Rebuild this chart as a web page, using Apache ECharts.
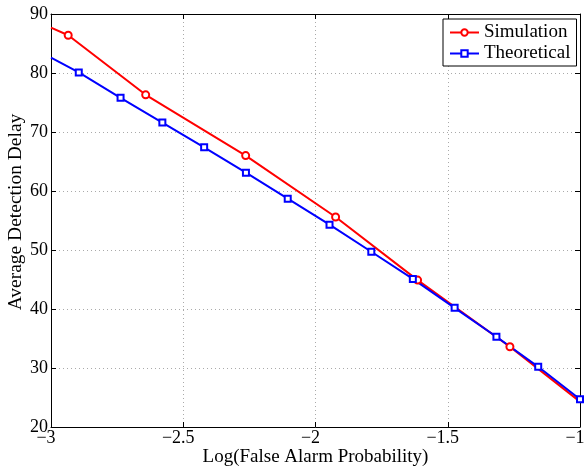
<!DOCTYPE html>
<html>
<head>
<meta charset="utf-8">
<script src="https://cdn.jsdelivr.net/npm/echarts@6/dist/echarts.min.js"></script>
<style>html,body{margin:0;padding:0;background:#fff}#c{width:585px;height:471px}</style>
</head>
<body>
<div id="c"></div>
<script>
var xTicks = [-3, -2.5, -2, -1.5, -1];
var yTicks = [20, 30, 40, 50, 60, 70, 80, 90];
var simX = [-3, -2.935, -2.642, -2.264, -1.924, -1.614, -1.265, -1];
var simY = [87.7, 86.4, 76.3, 66.0, 55.6, 44.9, 33.6, 24.3];
var simMarker = [0, 1, 1, 1, 1, 1, 1, 0];
var theoX = [-3, -2.895, -2.737, -2.579, -2.421, -2.263, -2.105, -1.947, -1.789, -1.632, -1.474, -1.316, -1.158, -1];
var theoY = [82.6, 80.1, 75.8, 71.6, 67.4, 63.1, 58.7, 54.3, 49.7, 45.1, 40.2, 35.3, 30.2, 24.7];
var theoMarker = [0, 1, 1, 1, 1, 1, 1, 1, 1, 1, 1, 1, 1, 1];

var FONT = "'Liberation Serif', 'DejaVu Serif', serif";
function build(xs, ys, marks) {
  return xs.map(function (x, i) {
    var d = { value: [x, ys[i]] };
    if (!marks[i]) d.symbol = 'none';
    return d;
  });
}
function fmt(v) { return String(v).replace('-', '\u2212'); }

var chart = echarts.init(document.getElementById('c'), null, { renderer: 'canvas' });
var gridLine = { show: true, lineStyle: { color: '#aaa', type: [1, 3], width: 1 } };
var tick = { show: true, inside: true, length: 5, lineStyle: { color: '#000' } };
var axLine = { show: true, onZero: false, lineStyle: { color: '#000', width: 1 } };
chart.setOption({
  animation: false,
  backgroundColor: '#fff',
  grid: { left: 51, right: 5, top: 14, bottom: 44, containLabel: false, outerBoundsMode: 'none' },
  legend: {
    orient: 'vertical',
    left: 443, top: 19,
    padding: [4, 6, 3, 6],
    itemGap: 2,
    itemWidth: 29, itemHeight: 8,
    borderColor: '#000', borderWidth: 1, borderRadius: 0,
    backgroundColor: '#fff',
    textStyle: { fontFamily: FONT, fontSize: 19, color: '#000' },
    data: ['Simulation', 'Theoretical']
  },
  xAxis: [{
    type: 'value', min: -3, max: -1, interval: 0.5, position: 'bottom',
    name: 'Log(False Alarm Probability)', nameLocation: 'middle', nameGap: 21, nameMoveOverlap: false,
    nameTextStyle: { fontFamily: FONT, fontSize: 19, color: '#000' },
    axisLine: axLine, axisTick: tick,
    axisLabel: { margin: 2, fontFamily: FONT, fontSize: 18, color: '#000', formatter: fmt, padding: [0, 10, 0, 0] },
    splitLine: gridLine
  }, {
    type: 'value', min: -3, max: -1, interval: 0.5, position: 'top',
    axisLine: axLine, axisTick: tick,
    axisLabel: { show: false }, splitLine: { show: false }
  }],
  yAxis: [{
    type: 'value', min: 20, max: 90, interval: 10, position: 'left',
    name: 'Average Detection Delay', nameLocation: 'middle', nameGap: 25, nameMoveOverlap: false,
    nameTextStyle: { fontFamily: FONT, fontSize: 19.5, color: '#000', padding: [0, 0, 0, 17] },
    axisLine: axLine, axisTick: tick,
    axisLabel: { margin: 3, fontFamily: FONT, fontSize: 18, color: '#000' },
    splitLine: gridLine
  }, {
    type: 'value', min: 20, max: 90, interval: 10, position: 'right',
    axisLine: axLine, axisTick: tick,
    axisLabel: { show: false }, splitLine: { show: false }
  }],
  series: [{
    name: 'Simulation', type: 'line', xAxisIndex: 0, yAxisIndex: 0,
    data: build(simX, simY, simMarker),
    color: '#ff0000',
    lineStyle: { color: '#ff0000', width: 2 },
    symbol: 'emptyCircle', symbolSize: 7, showAllSymbol: true,
    itemStyle: { color: '#ff0000', borderColor: '#ff0000', borderWidth: 1.5 }
  }, {
    name: 'Theoretical', type: 'line', xAxisIndex: 0, yAxisIndex: 0,
    data: build(theoX, theoY, theoMarker),
    color: '#0000ff',
    lineStyle: { color: '#0000ff', width: 2 },
    symbol: 'emptyRect', symbolSize: 6, showAllSymbol: true,
    itemStyle: { color: '#0000ff', borderColor: '#0000ff', borderWidth: 1.8 }
  }]
});
</script>
</body>
</html>
